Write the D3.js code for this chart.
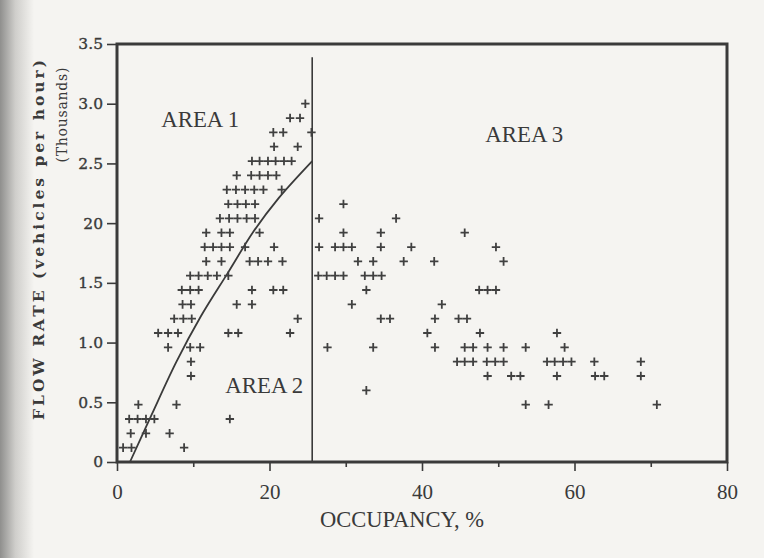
<!DOCTYPE html>
<html>
<head>
<meta charset="utf-8">
<script src="https://cdn.jsdelivr.net/npm/d3@7"></script>
<style>
  html, body { margin: 0; padding: 0; background: #f5f4f1; }
  svg { display: block; }
</style>
</head>
<body>
<svg id="chart" width="764" height="558"></svg>
<script>
// Axis ticks
const xTicks = [0, 20, 40, 60, 80];
const xMinorTicks = [10, 30, 50, 70];
const yTicks = [0, 0.5, 1.0, 1.5, 2.0, 2.5, 3.0, 3.5];
const yTickLabels = ["0", "0.5", "1.0", "1.5", "20", "2.5", "3.0", "3.5"];

// Observations: flow levels (thousands veh/h) and the occupancies (%) seen at each level
const flowLevels = [3.00, 2.88, 2.76, 2.64, 2.52, 2.40, 2.28, 2.16, 2.04, 1.92, 1.80, 1.68,
                    1.56, 1.44, 1.32, 1.20, 1.08, 0.96, 0.84, 0.72, 0.60, 0.48, 0.36, 0.24, 0.12];
const occupancyByLevel = [
  [24.7],
  [22.7, 24.0],
  [20.5, 21.8, 25.5],
  [20.6, 23.7],
  [17.7, 18.7, 19.8, 20.8, 21.9, 22.9],
  [15.7, 17.6, 18.7, 19.8, 20.9],
  [14.4, 15.6, 16.8, 18.0, 19.2, 21.6],
  [14.6, 15.8, 16.9, 18.1, 29.7],
  [13.5, 14.7, 15.8, 17.0, 18.1, 26.5, 36.6],
  [11.7, 13.7, 14.8, 18.7, 29.7, 34.6, 45.6],
  [11.5, 12.6, 13.7, 14.8, 16.8, 20.6, 26.5, 28.6, 29.7, 30.8, 34.6, 38.6, 49.7],
  [11.7, 13.7, 17.4, 18.5, 19.8, 21.7, 31.6, 33.6, 37.6, 41.6, 50.7],
  [9.6, 10.7, 11.9, 13.1, 14.6, 26.4, 27.5, 28.6, 29.7, 32.5, 33.6, 34.7],
  [8.5, 9.6, 10.7, 17.7, 20.5, 21.8, 32.7, 47.5, 48.6, 49.7],
  [8.6, 9.7, 15.7, 17.7, 30.8, 42.6],
  [7.5, 8.7, 9.8, 23.7, 34.6, 35.8, 41.7, 44.8, 45.9],
  [5.4, 6.7, 8.0, 14.6, 15.9, 22.7, 40.7, 47.6, 57.7],
  [6.7, 9.6, 10.9, 27.6, 33.6, 41.7, 45.6, 46.7, 48.6, 50.7, 53.6, 58.7],
  [9.7, 44.6, 45.6, 46.7, 48.5, 49.6, 50.7, 56.4, 57.4, 58.5, 59.6, 62.6, 68.7],
  [9.7, 48.6, 51.7, 52.9, 57.7, 62.7, 63.9, 68.7],
  [32.7],
  [2.8, 7.8, 53.6, 56.6, 70.8],
  [1.6, 2.7, 3.8, 4.9, 14.8],
  [1.8, 3.8, 6.9],
  [0.8, 1.9, 8.8]
];

// Uncongested flow-occupancy curve
const curveOccupancy = [1.7, 4.5, 7.8, 11.0, 14.6, 17.9, 21.2, 25.6];
const curveFlow      = [0.0, 0.39, 0.84, 1.22, 1.59, 1.93, 2.21, 2.52];

// Critical occupancy boundary
const boundaryOccupancy = 25.6;
const boundaryTopFlow = 3.39;

// Region labels
const areaNames = ["AREA 1", "AREA 2", "AREA 3"];
const areaOccupancy = [5.8, 14.2, 48.3];
const areaFlow = [2.805, 0.578, 2.68];

const ink = "#3a3a3a";
const svg = d3.select("#chart");
const W = 764, H = 558;
const plot = { left: 117, right: 727, top: 44, bottom: 462 };

// Paper tone with a shaded binding edge
const defs = svg.append("defs");
const grad = defs.append("linearGradient").attr("id", "edge")
  .attr("x1", 0).attr("x2", 1).attr("y1", 0).attr("y2", 0);
grad.append("stop").attr("offset", "0%").attr("stop-color", "#8f8f8d");
grad.append("stop").attr("offset", "45%").attr("stop-color", "#cfcecb");
grad.append("stop").attr("offset", "100%").attr("stop-color", "#f5f4f1");
svg.append("rect").attr("width", W).attr("height", H).attr("fill", "#f5f4f1");
svg.append("rect").attr("width", 34).attr("height", H).attr("fill", "url(#edge)");

const x = d3.scaleLinear().domain([0, 80]).range([plot.left, plot.right]);
const y = d3.scaleLinear().domain([0, 3.5]).range([plot.bottom, plot.top]);

// Minor x ticks
svg.append("g")
  .attr("transform", `translate(0,${plot.bottom})`)
  .call(d3.axisBottom(x).tickValues(xMinorTicks).tickSize(5).tickFormat(""))
  .call(g => g.select(".domain").remove())
  .call(g => g.selectAll("line").attr("stroke", ink).attr("stroke-width", 1.6));

// Major x ticks and labels
svg.append("g")
  .attr("transform", `translate(0,${plot.bottom})`)
  .call(d3.axisBottom(x).tickValues(xTicks).tickSize(9).tickPadding(13).tickFormat(d3.format("d")))
  .call(g => g.select(".domain").remove())
  .call(g => g.selectAll("line").attr("stroke", ink).attr("stroke-width", 1.6))
  .call(g => g.selectAll("text")
    .attr("fill", ink)
    .attr("font-family", "'Liberation Serif', serif")
    .attr("font-size", 21));

// y ticks and labels
svg.append("g")
  .attr("transform", `translate(${plot.left},0)`)
  .call(d3.axisLeft(y).tickValues(yTicks).tickSize(10).tickPadding(4)
    .tickFormat((d, i) => yTickLabels[i]))
  .call(g => g.select(".domain").remove())
  .call(g => g.selectAll("line").attr("stroke", ink).attr("stroke-width", 1.6))
  .call(g => g.selectAll("text")
    .attr("fill", ink)
    .attr("font-family", "'DejaVu Serif', serif")
    .attr("font-size", 15.5)
    .attr("stroke", ink)
    .attr("stroke-width", 0.35));

// Plot frame
svg.append("rect")
  .attr("x", plot.left).attr("y", plot.top)
  .attr("width", plot.right - plot.left).attr("height", plot.bottom - plot.top)
  .attr("fill", "none").attr("stroke", ink).attr("stroke-width", 3);

// Boundary between uncongested and congested regimes
svg.append("line")
  .attr("x1", x(boundaryOccupancy)).attr("x2", x(boundaryOccupancy))
  .attr("y1", y(boundaryTopFlow)).attr("y2", y(0))
  .attr("stroke", ink).attr("stroke-width", 1.6);

// Flow-occupancy curve
const curvePts = curveOccupancy.map((o, i) => [o, curveFlow[i]]);
svg.append("path")
  .datum(curvePts)
  .attr("fill", "none").attr("stroke", ink).attr("stroke-width", 1.8)
  .attr("d", d3.line().x(d => x(d[0])).y(d => y(d[1])).curve(d3.curveCatmullRom.alpha(0.5)));

// Observation markers
const points = [];
flowLevels.forEach((f, i) => occupancyByLevel[i].forEach(o => points.push({ occ: o, flow: f })));
svg.append("g").selectAll("path")
  .data(points)
  .join("path")
  .attr("transform", d => `translate(${x(d.occ)},${y(d.flow)})`)
  .attr("d", "M-4.2,0H4.2M0,-4.3V4.3")
  .attr("stroke", "#404040")
  .attr("stroke-width", 1.8)
  .attr("fill", "none");

// Region labels
svg.append("g").selectAll("text")
  .data(areaNames)
  .join("text")
  .attr("x", (d, i) => x(areaOccupancy[i]))
  .attr("y", (d, i) => y(areaFlow[i]))
  .attr("font-family", "'Liberation Serif', serif")
  .attr("font-size", 24)
  .attr("textLength", 78)
  .attr("lengthAdjust", "spacingAndGlyphs")
  .attr("fill", ink)
  .text(d => d);

// x axis title
svg.append("text")
  .attr("x", (plot.left + plot.right) / 2 - 20)
  .attr("y", 527)
  .attr("text-anchor", "middle")
  .attr("font-family", "'Liberation Serif', serif")
  .attr("font-size", 23)
  .attr("textLength", 164)
  .attr("lengthAdjust", "spacingAndGlyphs")
  .attr("fill", ink)
  .text("OCCUPANCY, %");

// y axis titles
svg.append("text")
  .attr("transform", "translate(44,240) rotate(-90)")
  .attr("text-anchor", "middle")
  .attr("font-family", "'DejaVu Serif', serif")
  .attr("font-weight", "bold")
  .attr("font-size", 15.5)
  .attr("textLength", 360)
  .attr("lengthAdjust", "spacing")
  .attr("fill", ink)
  .text("FLOW RATE (vehicles per hour)");

svg.append("text")
  .attr("transform", "translate(67,115) rotate(-90)")
  .attr("text-anchor", "middle")
  .attr("font-family", "'DejaVu Serif', serif")
  .attr("font-size", 14)
  .attr("textLength", 95)
  .attr("lengthAdjust", "spacing")
  .attr("fill", ink)
  .text("(Thousands)");
</script>
</body>
</html>
